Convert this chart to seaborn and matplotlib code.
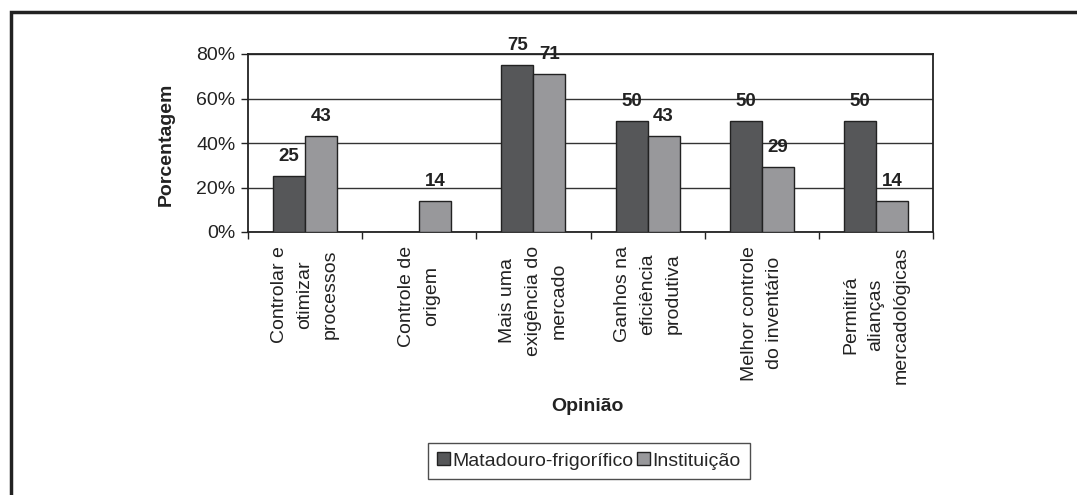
import pandas as pd
import matplotlib.pyplot as plt
import seaborn as sns
from matplotlib.patches import Rectangle
from matplotlib.ticker import FuncFormatter

# Data
categorias = [
    "Controlar e\notimizar\nprocessos",
    "Controle de\norigem",
    "Mais uma\nexigência do\nmercado",
    "Ganhos na\neficiência\nprodutiva",
    "Melhor controle\ndo inventário",
    "Permitirá\nalianças\nmercadológicas",
]
matadouro = [25, 0, 75, 50, 50, 50]
instituicao = [43, 14, 71, 43, 29, 14]
grupos = ["Matadouro-frigorífico", "Instituição"]
cores = ["#555759", "#97989b"]

df = pd.DataFrame({
    "Opinião": categorias * 2,
    "Porcentagem": matadouro + instituicao,
    "Grupo": [grupos[0]] * len(categorias) + [grupos[1]] * len(categorias),
})

sns.set_style("ticks")
plt.rcParams['font.family'] = ['Liberation Sans', 'DejaVu Sans']

fig = plt.figure(figsize=(10.77, 4.95), dpi=100)
ax = fig.add_axes([248 / 1077, 1 - 232 / 495, 685 / 1077, 178 / 495])

sns.barplot(
    data=df,
    x="Opinião",
    y="Porcentagem",
    hue="Grupo",
    palette=cores,
    width=0.56,
    edgecolor="#222222",
    linewidth=1,
    ax=ax,
    legend=True,
    zorder=3,
)

# Labels above bars (skip zeros)
for cont in ax.containers:
    labels = [f"{v:.0f}" if v > 0 else "" for v in cont.datavalues]
    ax.bar_label(cont, labels=labels, padding=8, fontsize=13.5,
                 fontweight="bold", color="#222222")

ax.set_ylim(0, 80)
ax.set_yticks([0, 20, 40, 60, 80])
ax.yaxis.set_major_formatter(FuncFormatter(lambda v, p: f"{v:.0f}%"))
ax.set_xlim(-0.5, len(categorias) - 0.5)
ax.grid(axis="y", color="#333333", linewidth=1, zorder=0)

ax.set_xticks([i + 0.5 for i in range(-1, len(categorias))], minor=True)
ax.set_xticks(range(len(categorias)))
ax.set_xticklabels(categorias, rotation=90, fontsize=14, linespacing=1.65,
                   multialignment="center", color="#222222")
ax.tick_params(axis="x", which="major", length=0, pad=10)
ax.tick_params(axis="x", which="minor", length=5, width=1, color="#222222")
ax.tick_params(axis="y", length=5, width=1, color="#222222",
               labelsize=14, labelcolor="#222222", pad=4)

for s in ax.spines.values():
    s.set_color("#222222")
    s.set_linewidth(1.3)
    s.set_visible(True)

ax.set_ylabel("Porcentagem", fontsize=14, fontweight="bold", color="#222222")
ax.set_xlabel("Opinião", fontsize=14, fontweight="bold", color="#222222")
ax.yaxis.set_label_coords(-0.107, 0.49)
ax.xaxis.set_label_coords(0.495, -0.93)

handles, lbls = ax.get_legend_handles_labels()
ax.get_legend().remove()
leg = fig.legend(
    handles, lbls,
    loc="center",
    bbox_to_anchor=(589 / 1077, 1 - 461 / 495),
    ncol=2,
    fontsize=14,
    frameon=True,
    fancybox=False,
    edgecolor="#222222",
    handlelength=0.65,
    handleheight=0.65,
    handletextpad=0.15,
    columnspacing=0.15,
    borderpad=0.5,
    borderaxespad=0,
)
leg.get_frame().set_linewidth(1)

# Outer frame
fig.add_artist(Rectangle((11 / 1077, -0.1), 1.1, 1 - 12 / 495 + 0.1,
                         transform=fig.transFigure, fill=False,
                         edgecolor="#222222", linewidth=2.5, clip_on=False))

plt.savefig("out.png", dpi=100)
